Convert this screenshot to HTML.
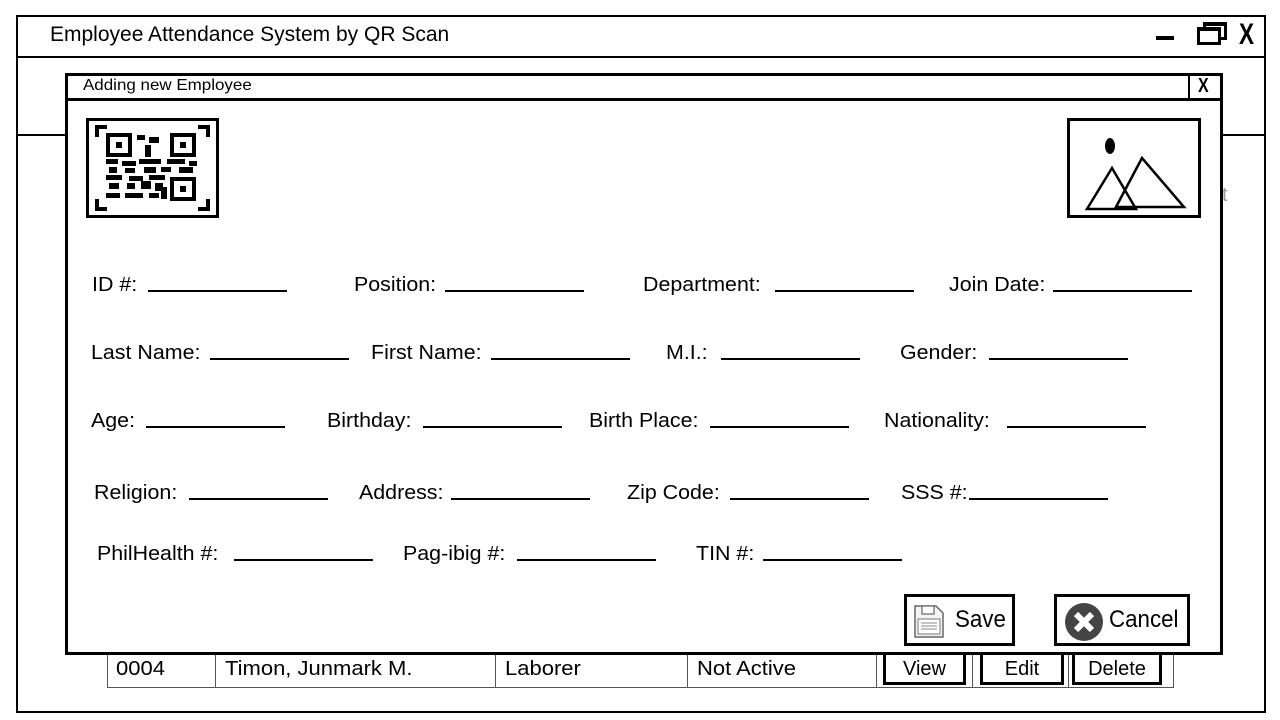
<!DOCTYPE html>
<html><head><meta charset="utf-8"><style>
*{margin:0;padding:0;box-sizing:border-box}
body{width:1280px;height:720px;background:#fff;position:relative;overflow:hidden;font-family:"Liberation Sans",sans-serif;color:#000}
.a{position:absolute}
.lbl{position:absolute;font-size:20px;line-height:24px;white-space:nowrap;transform:scaleX(1.07);transform-origin:left center}
.ln{position:absolute;height:2px;width:139px;background:#000}
.btn{position:absolute;border:3px solid #000;background:#fff}
.cell{position:absolute;top:655px;height:33px;border-left:1px solid #555;font-size:20px;line-height:28px;padding-left:9px;white-space:nowrap}
.cell span{display:inline-block;transform:scaleX(1.1);transform-origin:left}
</style></head><body>
<div class="a" style="left:16px;top:15px;width:1250px;height:698px;border:2px solid #000"></div>
<div class="a" style="left:16px;top:56px;width:1250px;height:2px;background:#000"></div>
<div class="a" style="left:16px;top:134px;width:1250px;height:2px;background:#000"></div>
<div class="a" style="left:50px;top:22px;font-size:21px;line-height:26px;white-space:nowrap">Employee Attendance System by QR Scan</div>
<div class="a" style="left:1156px;top:36px;width:18px;height:4px;background:#000"></div>
<div class="a" style="left:1203px;top:22px;width:24px;height:18px;border:3px solid #000;border-top-width:4px"></div>
<div class="a" style="left:1197px;top:27px;width:24px;height:18px;border:3px solid #000;border-top-width:4px;background:#fff"></div>
<div class="a" style="left:1239px;top:18px;font-size:30px;line-height:34px;font-weight:bold;transform:scaleX(0.75);transform-origin:left">X</div>
<div class="a" style="left:1222px;top:184px;font-size:20px;color:#999">t</div>
<div class="a" style="left:107px;top:655px;width:1067px;height:33px;border:1px solid #555;border-top:none"></div>
<div class="cell" style="left:107px;border-left:none"><span>0004</span></div>
<div class="cell" style="left:215px"><span>Timon, Junmark M.</span></div>
<div class="cell" style="left:495px"><span>Laborer</span></div>
<div class="cell" style="left:687px"><span>Not Active</span></div>
<div class="cell" style="left:876px;width:0"></div>
<div class="cell" style="left:972px;width:0"></div>
<div class="cell" style="left:1068px;width:0"></div>
<div class="btn" style="left:883px;top:652px;width:83px;height:33px;text-align:center;font-size:20px;line-height:29px">View</div>
<div class="btn" style="left:980px;top:652px;width:84px;height:33px;text-align:center;font-size:20px;line-height:29px">Edit</div>
<div class="btn" style="left:1072px;top:652px;width:90px;height:33px;text-align:center;font-size:20px;line-height:29px">Delete</div>
<div class="a" style="left:65px;top:73px;width:1158px;height:582px;border:3px solid #000;background:#fff"></div>
<div class="a" style="left:65px;top:98px;width:1158px;height:3px;background:#000"></div>
<div class="a" style="left:1188px;top:75px;width:2px;height:24px;background:#000"></div>
<div class="a" style="left:83px;top:76px;font-size:16px;line-height:20px;white-space:nowrap;transform:scaleX(1.06);transform-origin:left">Adding new Employee</div>
<div class="a" style="left:1198px;top:74px;font-size:20px;line-height:24px;font-weight:bold;transform:scaleX(0.8);transform-origin:left">X</div>
<div class="a" style="left:86px;top:118px;width:133px;height:100px;border:3px solid #000"></div>
<svg class="a" style="left:89px;top:121px" width="127" height="94" viewBox="0 0 127 94">
<g fill="none" stroke="#000" stroke-width="4">
<path d="M8 16V6H18M109 6H119V16M8 78V88H18M109 88H119V78"/>
<rect x="19" y="14" width="22" height="20"/><rect x="83" y="14" width="22" height="20"/><rect x="83" y="58" width="22" height="20"/>
</g>
<g fill="#000"><rect x="27" y="21" width="6" height="6"/><rect x="91" y="21" width="6" height="6"/><rect x="91" y="65" width="6" height="6"/>
<rect x="48" y="14" width="8" height="5"/><rect x="60" y="16" width="10" height="6"/><rect x="56" y="24" width="6" height="12"/>
<rect x="17" y="38" width="12" height="5"/><rect x="33" y="40" width="14" height="5"/><rect x="50" y="38" width="22" height="5"/><rect x="78" y="38" width="18" height="5"/><rect x="100" y="40" width="8" height="5"/>
<rect x="20" y="46" width="8" height="6"/><rect x="36" y="47" width="10" height="5"/><rect x="55" y="46" width="12" height="6"/><rect x="72" y="46" width="10" height="5"/><rect x="90" y="46" width="14" height="6"/>
<rect x="17" y="54" width="16" height="5"/><rect x="40" y="55" width="14" height="5"/><rect x="60" y="54" width="16" height="5"/>
<rect x="20" y="62" width="10" height="6"/><rect x="38" y="62" width="8" height="6"/><rect x="52" y="60" width="10" height="8"/><rect x="66" y="62" width="8" height="8"/>
<rect x="17" y="72" width="14" height="5"/><rect x="36" y="72" width="18" height="5"/><rect x="60" y="72" width="10" height="5"/><rect x="72" y="66" width="6" height="12"/></g>
</svg>
<div class="a" style="left:1067px;top:118px;width:134px;height:100px;border:3px solid #000"></div>
<svg class="a" style="left:1070px;top:121px" width="128" height="94">
<ellipse cx="40" cy="25" rx="5" ry="8" fill="#000"/>
<g fill="none" stroke="#000" stroke-width="2.5"><path d="M46 86L72 37L114 86Z"/><path d="M17 88L42 47L66 88Z"/></g>
</svg>
<div class="lbl" style="left:92px;top:273px">ID #:</div><div class="ln" style="left:148px;top:290px"></div>
<div class="lbl" style="left:354px;top:273px">Position:</div><div class="ln" style="left:445px;top:290px"></div>
<div class="lbl" style="left:643px;top:273px">Department:</div><div class="ln" style="left:775px;top:290px"></div>
<div class="lbl" style="left:949px;top:273px">Join Date:</div><div class="ln" style="left:1053px;top:290px"></div>
<div class="lbl" style="left:91px;top:341px">Last Name:</div><div class="ln" style="left:210px;top:358px"></div>
<div class="lbl" style="left:371px;top:341px">First Name:</div><div class="ln" style="left:491px;top:358px"></div>
<div class="lbl" style="left:666px;top:341px">M.I.:</div><div class="ln" style="left:721px;top:358px"></div>
<div class="lbl" style="left:900px;top:341px">Gender:</div><div class="ln" style="left:989px;top:358px"></div>
<div class="lbl" style="left:91px;top:409px">Age:</div><div class="ln" style="left:146px;top:426px"></div>
<div class="lbl" style="left:327px;top:409px">Birthday:</div><div class="ln" style="left:423px;top:426px"></div>
<div class="lbl" style="left:589px;top:409px">Birth Place:</div><div class="ln" style="left:710px;top:426px"></div>
<div class="lbl" style="left:884px;top:409px">Nationality:</div><div class="ln" style="left:1007px;top:426px"></div>
<div class="lbl" style="left:94px;top:481px">Religion:</div><div class="ln" style="left:189px;top:498px"></div>
<div class="lbl" style="left:359px;top:481px">Address:</div><div class="ln" style="left:451px;top:498px"></div>
<div class="lbl" style="left:627px;top:481px">Zip Code:</div><div class="ln" style="left:730px;top:498px"></div>
<div class="lbl" style="left:901px;top:481px">SSS #:</div><div class="ln" style="left:969px;top:498px"></div>
<div class="lbl" style="left:97px;top:542px">PhilHealth #:</div><div class="ln" style="left:234px;top:559px"></div>
<div class="lbl" style="left:403px;top:542px">Pag-ibig #:</div><div class="ln" style="left:517px;top:559px"></div>
<div class="lbl" style="left:696px;top:542px">TIN #:</div><div class="ln" style="left:763px;top:559px"></div>
<div class="btn" style="left:904px;top:594px;width:111px;height:52px"></div>
<svg class="a" style="left:912px;top:604px" width="34" height="36">
<path d="M3 2H24L31 9V33H3Z" fill="#f4f4f4" stroke="#666" stroke-width="1.5"/>
<rect x="10" y="2" width="12" height="8" fill="#fff" stroke="#666" stroke-width="1.2"/>
<rect x="6" y="15" width="22" height="15" fill="#fff" stroke="#777" stroke-width="1"/>
<g stroke="#888" stroke-width="1"><path d="M9 19H25M9 22H25M9 25H25"/></g>
</svg>
<div class="a" style="left:955px;top:605px;font-size:24px;line-height:30px;transform:scaleX(0.93);transform-origin:left">Save</div>
<div class="btn" style="left:1054px;top:594px;width:136px;height:52px"></div>
<svg class="a" style="left:1064px;top:602px" width="40" height="40">
<circle cx="20" cy="20" r="19" fill="#444"/>
<path d="M12 12L28 28M28 12L12 28" stroke="#fff" stroke-width="6"/>
</svg>
<div class="a" style="left:1109px;top:605px;font-size:24px;line-height:30px;transform:scaleX(0.93);transform-origin:left">Cancel</div>
</body></html>
